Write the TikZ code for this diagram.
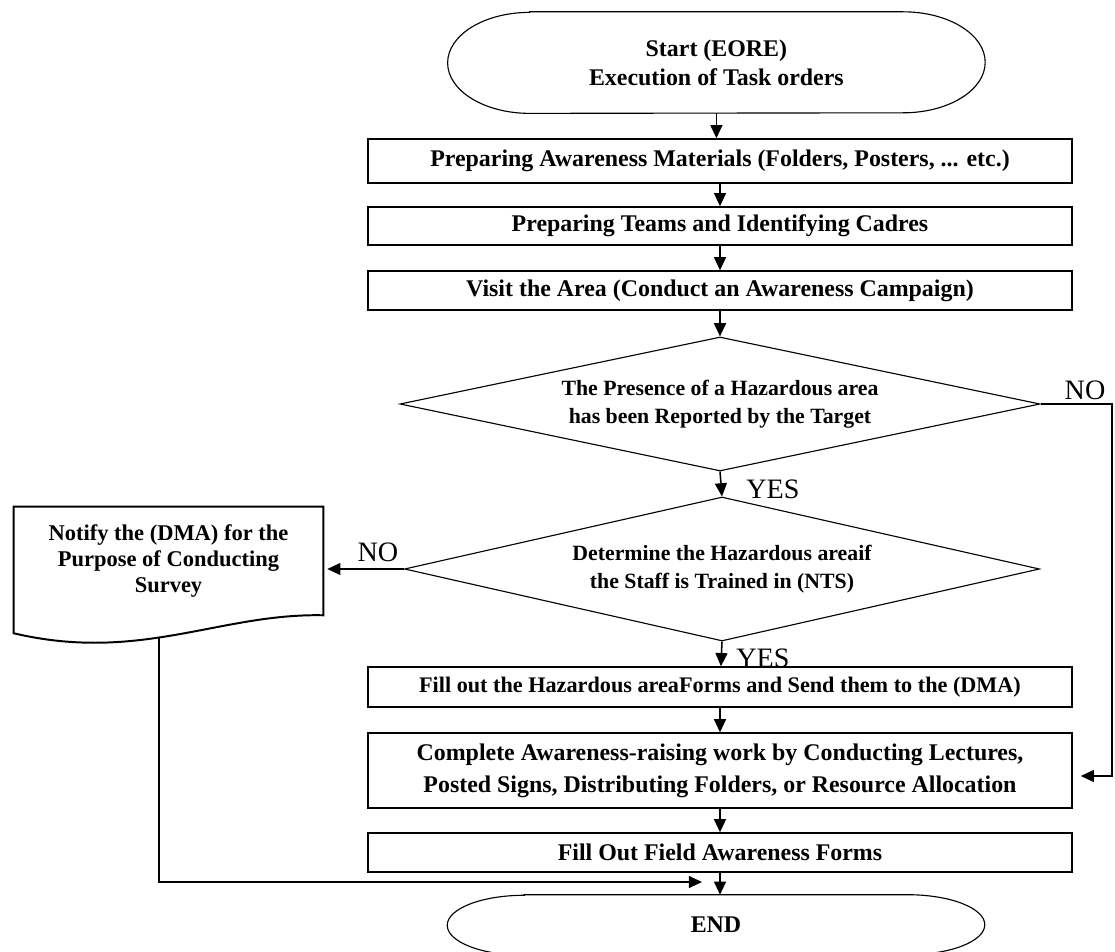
\documentclass[tikz,border=0pt]{standalone}
\usepackage{fontspec}
\setmainfont{Liberation Serif}
\usetikzlibrary{shapes.geometric,arrows.meta}

\begin{document}
\begin{tikzpicture}[
    stepbox/.style={draw,line width=1.1pt,minimum width=176mm,inner sep=0pt,align=center,
      font=\fontsize{17}{22.5}\selectfont\bfseries},
    decision/.style={draw,diamond,line width=0.8pt,inner sep=0pt,align=center,
      font=\fontsize{15.5}{19.9}\selectfont\bfseries},
    terminal/.style={inner sep=0pt,align=center,font=\fontsize{17}{20.5}\selectfont\bfseries},
    answer/.style={inner sep=0pt,font=\fontsize{20}{24}\selectfont},
    arr/.style={-{Triangle[length=3.3mm,width=3mm]},line width=1.1pt},
  ]
    \useasboundingbox (0,0) rectangle (278.75mm,237.75mm);

    % start
    \node[terminal,minimum width=134.25mm,minimum height=25.25mm] (start) at (179.1mm,222.1mm)
      {Start (EORE)\\Execution of Task orders};
    \draw[line width=0.8pt] ([xshift=20.5mm]start.north west) -- ([xshift=-20.5mm]start.north east)
      arc[start angle=90,end angle=-90,x radius=20.5mm,y radius=12.625mm]
      -- ([xshift=20.5mm]start.south west)
      arc[start angle=270,end angle=90,x radius=20.5mm,y radius=12.625mm] -- cycle;

    \node[stepbox,minimum height=11mm] (prep) at (180mm,197.5mm)
      {Preparing Awareness Materials (Folders, Posters, ... etc.)};
    \node[stepbox,minimum height=9.5mm] (teams) at (180mm,181.25mm)
      {Preparing Teams and Identifying Cadres};
    \node[stepbox,minimum height=9.75mm] (visit) at (180mm,165.1mm)
      {Visit the Area (Conduct an Awareness Campaign)};

    \node[decision,minimum width=160mm,minimum height=33.5mm,shape aspect=4.78] (haz1) at (180mm,136.75mm)
      {The Presence of a Hazardous area\\has been Reported by the Target};
    \node[decision,minimum width=158.75mm,minimum height=36mm,shape aspect=4.41] (haz2) at (180.5mm,95.5mm)
      {Determine the Hazardous areaif\\the Staff is Trained in (NTS)};

    \node[stepbox,minimum height=10mm,font=\fontsize{15.8}{20}\selectfont\bfseries] (forms) at (180mm,66mm)
      {Fill out the Hazardous areaForms and Send them to the (DMA)};
    \node[stepbox,minimum height=18.75mm] (complete) at (180mm,45.1mm)
      {Complete Awareness-raising work by Conducting Lectures,\\Posted Signs, Distributing Folders, or Resource Allocation};
    \node[stepbox,minimum height=9.75mm] (field) at (180mm,24.6mm)
      {Fill Out Field Awareness Forms};

    % end
    \node[terminal,minimum width=134.25mm,minimum height=15mm] (finish) at (179mm,6.5mm) {END};
    \draw[line width=0.8pt] ([xshift=19.25mm]finish.north west) -- ([xshift=-19.25mm]finish.north east)
      arc[start angle=90,end angle=-90,x radius=19.25mm,y radius=7.5mm]
      -- ([xshift=19.25mm]finish.south west)
      arc[start angle=270,end angle=90,x radius=19.25mm,y radius=7.5mm] -- cycle;

    % document on the left
    \node[terminal,font=\fontsize{16}{18.2}\selectfont\bfseries,minimum width=77.25mm,minimum height=27mm]
      (notify) at (42.125mm,97.5mm) {Notify the (DMA) for the\\Purpose of Conducting\\Survey};
    \draw[line width=1.4pt] (notify.north west) -- (notify.north east) -- (notify.south east)
      .. controls (55mm,84.5mm) and (35mm,72mm) .. ([yshift=-4.5mm]notify.south west) -- cycle;

    \coordinate (loopR) at (278mm,136.75mm);
    \coordinate (docout) at (39.75mm,78.5mm);
    \coordinate (join) at (175.5mm,17.25mm);

    \draw[arr] (start.south) -- (start.south |- prep.north);
    \draw[arr] (prep) -- (teams);
    \draw[arr] (teams) -- (visit);
    \draw[arr] (visit) -- (haz1.north);
    \draw[arr] (haz1.south) -- (haz2.north);
    \draw[arr] (haz2.south) -- (forms);
    \draw[arr] (forms) -- (complete);
    \draw[arr] (complete) -- (field);
    \draw[arr] (field.south) -- (field.south |- finish.north);
    \draw[arr,shorten >=1mm] (haz2.west) -- (haz2.west -| notify.east);
    \draw[arr,shorten >=2mm] (haz1.east) -- (loopR) |- ([yshift=-1.35mm]complete.east);
    \draw[arr] (docout) |- (join);

    \node[answer] (no1) at (271.25mm,140.25mm) {NO};
    \node[answer] (yes1) at (193.25mm,115.5mm) {YES};
    \node[answer] (no2) at (94.5mm,99.75mm) {NO};
    \node[answer] (yes2) at (190.75mm,73.25mm) {YES};
  \end{tikzpicture}
\end{document}
